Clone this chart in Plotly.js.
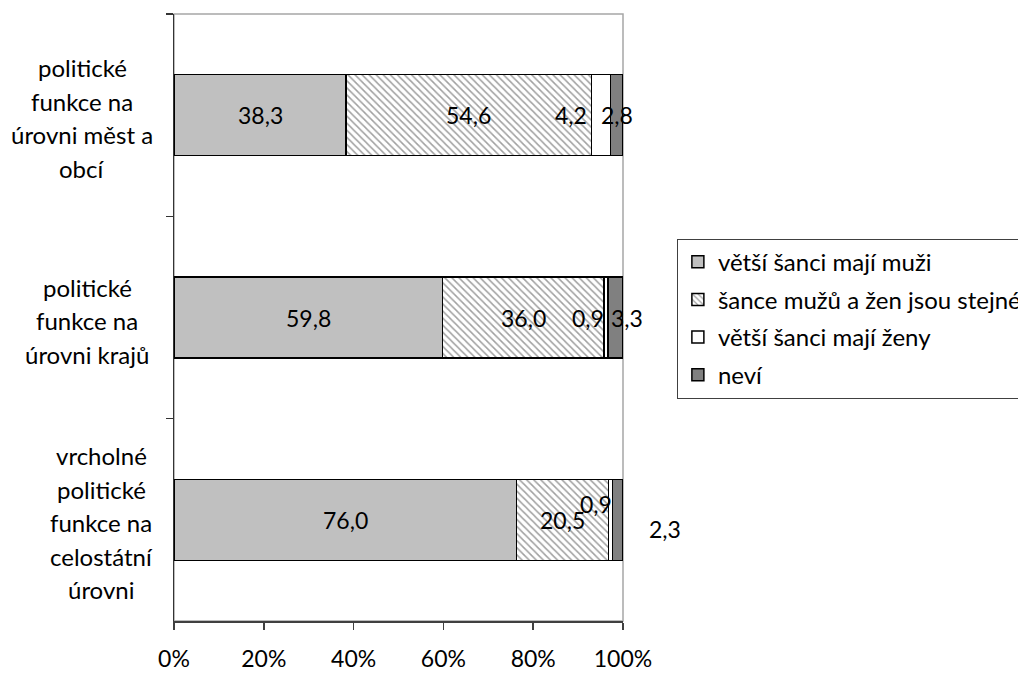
<!DOCTYPE html>
<html><head><meta charset="utf-8">
<script src="https://cdn.plot.ly/plotly-3.0.1.min.js"></script>
<style>html,body{margin:0;padding:0;background:#fff}#chart{width:1018px;height:673px}</style>
</head><body><div id="chart"></div>
<script>
// ---- data ----
const categories = ["politické funkce na úrovni měst a obcí", "politické funkce na úrovni krajů", "vrcholné politické funkce na celostátní úrovni"];
const categoryLines = [["politické", "funkce na", "úrovni měst a", "obcí"], ["politické", "funkce na", "úrovni krajů"], ["vrcholné", "politické", "funkce na", "celostátní", "úrovni"]];
const seriesNames = ["větší šanci mají muži", "šance mužů a žen jsou stejné", "větší šanci mají ženy", "neví"];
const muzi = [38.3, 59.8, 76.0];
const stejne = [54.6, 36.0, 20.5];
const zeny = [4.2, 0.9, 0.9];
const nevi = [2.8, 3.3, 2.3];
const xTickVals = [0, 20, 40, 60, 80, 100];
const xTickText = ["0%", "20%", "40%", "60%", "80%", "100%"];

// ---- styles ----
const FONT = "Lato, 'Open Sans', sans-serif";
const series = [muzi, stejne, zeny, nevi];
const fills = ["#c0c0c0", "#ffffff", "#ffffff", "#808080"];
const labelShiftX = [[0, 0, 0], [0, 0, 0], [-30, -18, -15], [0, 11, 47]];
const labelShiftY = [[0, 0, 0], [0, 0, 0], [0, 0, 16], [0, 0, -9]];
const catShiftX = [-92, -87, -73];
const LINE_GAP = 33.5;

const traces = series.map((vals, i) => {
  const t = {
    type: "bar", orientation: "h", name: seriesNames[i], y: categories, x: vals,
    legendgroup: "g" + i, hoverinfo: "skip",
    marker: { color: fills[i], line: { color: "#000", width: 1.5 } }
  };
  if (i === 1) t.marker.pattern = { shape: "\\", fgcolor: "#a0a0a0", bgcolor: "#ffffff", size: 5, solidity: 0.3 };
  return t;
});

const annotations = [];
// value labels (positions from normalized cumulative data)
categories.forEach((c, j) => {
  const total = series.reduce((s, arr) => s + arr[j], 0);
  let cum = 0;
  series.forEach((arr, i) => {
    const p = arr[j] / total * 100;
    annotations.push({
      x: cum + p / 2, y: c, xref: "x", yref: "y", showarrow: false,
      text: arr[j].toFixed(1).replace(".", ","),
      xshift: labelShiftX[i][j], yshift: labelShiftY[i][j],
      font: { family: FONT, size: 23, color: "#000" }
    });
    cum += p;
  });
});
// category labels
categories.forEach((c, j) => {
  const lines = categoryLines[j];
  const n = lines.length;
  lines.forEach((ln, k) => {
    annotations.push({
      x: 0, y: c, xref: "paper", yref: "y", showarrow: false, xanchor: "center",
      text: ln, xshift: catShiftX[j], yshift: -((k - (n - 1) / 2) * LINE_GAP + 3),
      font: { family: FONT, size: 24, color: "#000" }
    });
  });
});

const layout = {
  width: 1018, height: 673,
  margin: { l: 174, r: 395, t: 14, b: 52, autoexpand: false },
  paper_bgcolor: "#fff", plot_bgcolor: "#fff",
  barmode: "stack", barnorm: "percent", bargap: 0.6,
  font: { family: FONT, size: 23, color: "#000" },
  showlegend: true,
  legend: {
    x: 1.12, y: 0.63, xanchor: "left", yanchor: "top",
    bgcolor: "#fff", bordercolor: "#404040", borderwidth: 1,
    font: { family: FONT, size: 24, color: "#000" },
    traceorder: "grouped", tracegroupgap: 3.5, itemwidth: 30
  },
  xaxis: {
    range: [0, 100], tickvals: xTickVals, ticktext: xTickText,
    showgrid: false, zeroline: false, showline: true, linecolor: "#404040", linewidth: 1.5,
    ticks: "outside", ticklen: 7, tickcolor: "#404040", tickwidth: 1.5,
    ticklabelstandoff: 10, tickfont: { family: FONT, size: 23, color: "#000" }, fixedrange: true
  },
  yaxis: {
    type: "category", autorange: "reversed", tickson: "boundaries",
    showgrid: false, zeroline: false, showline: true, linecolor: "#333", linewidth: 1.5,
    ticks: "outside", ticklen: 7, tickcolor: "#333", tickwidth: 1.5,
    showticklabels: false, fixedrange: true
  },
  shapes: [{
    type: "rect", xref: "x domain", yref: "y domain", x0: 0, x1: 1, y0: 0, y1: 1,
    line: { color: "#a6a6a6", width: 1.5 }, layer: "below"
  }],
  annotations: annotations
};

Plotly.newPlot("chart", traces, layout, { displayModeBar: false, staticPlot: true });
</script>
</body></html>
